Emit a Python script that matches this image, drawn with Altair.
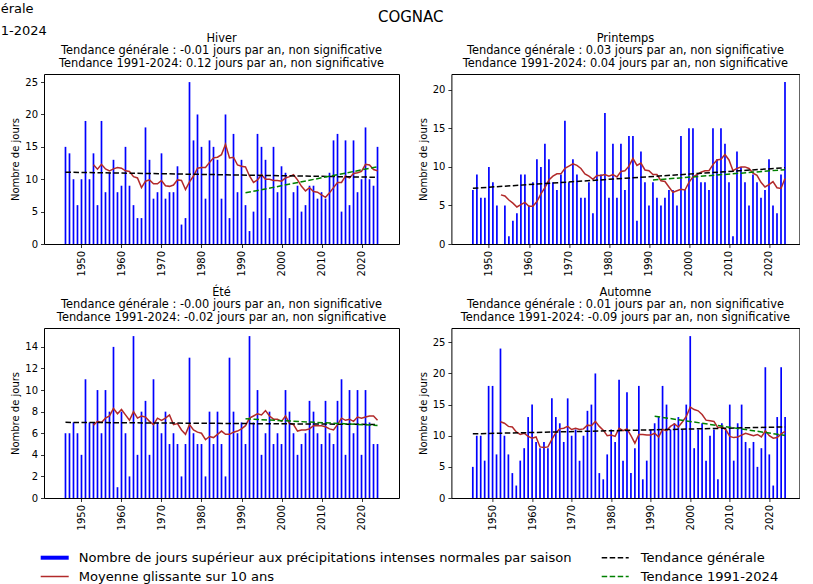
import altair as alt
import pandas as pd

# ---------------- data ----------------
annees_hiver = list(range(1946, 2025))
annees_printemps = list(range(1946, 2025))
annees_ete = list(range(1946, 2025))
annees_automne = list(range(1945, 2025))

hiver = [15, 14, 10, 6, 10, 19, 10, 14, 6, 19,
         8, 11, 13, 8, 9, 15, 9, 6, 4, 4,
         18, 13, 7, 8, 14, 7, 8, 8, 12, 3,
         4, 25, 16, 20, 15, 7, 16, 15, 13, 7,
         20, 4, 17, 8, 13, 6, 2, 5, 17, 15,
         13, 4, 15, 8, 12, 11, 4, 8, 9, 5,
         6, 9, 9, 7, 8, 7, 11, 16, 17, 5,
         16, 6, 16, 8, 10, 18, 10, 9, 15]

printemps = [7, 9, 6, 6, 10, 8, 5, 0, 5, 1,
             3, 4, 9, 9, 5, 8, 11, 10, 13, 11,
             8, 7, 9, 16, 8, 11, 9, 6, 6, 8,
             4, 12, 9, 17, 6, 13, 6, 13, 7, 14,
             14, 3, 12, 8, 5, 8, 6, 5, 6, 7,
             7, 5, 14, 7, 15, 15, 9, 8, 8, 7,
             15, 11, 15, 13, 8, 1, 12, 10, 8, 5,
             9, 8, 6, 7, 11, 5, 4, 9, 21]

ete = [6, 6, 7, 6, 4, 11, 7, 7, 10, 6,
       10, 8, 14, 1, 8, 6, 2, 15, 4, 8,
       9, 4, 11, 7, 6, 8, 5, 6, 5, 2,
       5, 13, 6, 5, 5, 2, 8, 5, 8, 5,
       2, 13, 8, 6, 7, 5, 15, 7, 10, 4,
       6, 8, 5, 6, 5, 10, 8, 6, 4, 5,
       6, 9, 8, 6, 5, 9, 6, 5, 9, 11,
       4, 10, 6, 10, 4, 10, 7, 5, 5]

automne = [5, 10, 10, 6, 18, 18, 7, 24, 10, 7,
           4, 2, 6, 8, 13, 15, 9, 8, 9, 8,
           16, 13, 12, 9, 16, 10, 11, 6, 10, 14,
           15, 20, 4, 3, 7, 11, 9, 19, 6, 17,
           4, 8, 18, 3, 6, 11, 12, 13, 18, 15,
           11, 12, 13, 11, 15,
           26, 8, 11, 12, 6, 10, 11, 3, 12, 11,
           15, 6, 12, 15, 9, 8, 9, 5, 8, 21,
           7, 2, 13, 21, 13]

titre = "COGNAC"
saisons = ["Hiver", "Printemps", "Été", "Automne"]
tendance_generale = ["-0.01", "0.03", "-0.00", "0.01"]
tendance_recente = ["0.12", "0.04", "-0.02", "-0.09"]
ticks_x = [1950, 1960, 1970, 1980, 1990, 2000, 2010, 2020]
legende = ["Nombre de jours supérieur aux précipitations intenses normales par saison",
           "Moyenne glissante sur 10 ans",
           "Tendance générale",
           "Tendance 1991-2024"]
fragments = ["érale", "1-2024"]

FONT = "DejaVu Sans"
BLEU = "#0000ff"
ROUGE = "#b22a2a"
VERT = "#008000"


def texte(t, x, y, size, align="left"):
    return alt.Chart(pd.DataFrame({"t": [t]})).mark_text(
        align=align, baseline="middle", fontSize=size, font=FONT, color="black"
    ).encode(text="t:N", x=alt.value(x), y=alt.value(y))


def trait(x1, x2, y, color, width, dash=None):
    kw = dict(color=color, strokeWidth=width)
    if dash:
        kw["strokeDash"] = dash
    return alt.Chart(pd.DataFrame({"a": [0]})).mark_rule(**kw).encode(
        x=alt.value(x1), x2=alt.value(x2), y=alt.value(y))


def panneau(i, annees, valeurs, ymax, ypas, xdom, largeur, extra):
    df = pd.DataFrame({"annee": annees, "jours": valeurs})
    xs = alt.Scale(domain=xdom, nice=False, zero=False)
    ys = alt.Scale(domain=[0, ymax], nice=False, zero=True)
    xax = alt.Axis(values=ticks_x, format="d", labelAngle=-90, title=None)
    yax = alt.Axis(values=list(range(0, int(ymax) + 1, ypas)), title="Nombre de jours")

    def enc(yfield):
        return dict(x=alt.X("annee:Q", scale=xs, axis=xax),
                    y=alt.Y(f"{yfield}:Q", scale=ys, axis=yax))

    base = alt.Chart(df)
    barres = base.mark_bar(color=BLEU, size=1.7, orient="vertical").encode(**enc("jours"))
    moyenne = base.transform_window(
        moy="mean(jours)", n="count()", frame=[-9, 0], sort=[{"field": "annee"}]
    ).transform_filter("datum.n >= 8").mark_line(color=ROUGE, strokeWidth=1.5).encode(**enc("moy"))
    tendance = base.transform_regression("annee", "jours").mark_line(
        color="black", strokeWidth=1.5, strokeDash=[5.5, 2.5]).encode(**enc("jours"))
    tendance2 = base.transform_filter("datum.annee >= 1991").transform_regression(
        "annee", "jours").mark_line(color=VERT, strokeWidth=1.5, strokeDash=[5.5, 2.5]).encode(**enc("jours"))

    cx = largeur / 2
    titres = [
        texte(saisons[i], cx, -35.3, 11.4, "center"),
        texte(f"Tendance générale : {tendance_generale[i]} jours par an, non significative",
              cx, -22.6, 11.4, "center"),
        texte(f"Tendance 1991-2024: {tendance_recente[i]} jours par an, non significative",
              cx, -10.2, 11.4, "center"),
    ]
    return alt.layer(barres, moyenne, tendance, tendance2, *titres, *extra).properties(
        width=largeur, height=170)


# header items placed relative to the first panel's plot origin
ancre = alt.Chart(pd.DataFrame({"a": [0]})).mark_rule(opacity=0, strokeWidth=0.1).encode(
    x=alt.value(-43.3), x2=alt.value(-42.3), y=alt.value(-73.3))
entete = [ancre,
          texte(titre, 366.7, -57.5, 15, "center"),
          texte(fragments[0], -43.3, -65.3, 13),
          texte(fragments[1], -43.3, -43.3, 13)]

# legend items placed relative to the third panel's plot origin
ly1, ly2 = 229.7, 248.5
legende_items = [
    trait(-3.3, 24.7, ly1, BLEU, 4),
    texte(legende[0], 34.7, ly1, 13.1),
    trait(-3.3, 24.7, ly2, ROUGE, 1.5),
    texte(legende[1], 34.7, ly2, 13.1),
    trait(557.7, 584.7, ly1, "black", 1.5, [5.5, 2.5]),
    texte(legende[2], 596.7, ly1, 13.1),
    trait(557.7, 584.7, ly2, VERT, 1.5, [5.5, 2.5]),
    texte(legende[3], 596.7, ly2, 13.1),
]

p1 = panneau(0, annees_hiver, hiver, 26.25, 5, [1941.88, 2028.12], 355, entete)
p2 = panneau(1, annees_printemps, printemps, 22.05, 5, [1941.88, 2026.35], 348, [])
p3 = panneau(2, annees_ete, ete, 15.75, 2, [1941.88, 2028.12], 355, legende_items)
p4 = panneau(3, annees_automne, automne, 27.3, 5, [1940.85, 2026.35], 348, [])

chart = alt.concat(p1, p2, p3, p4, columns=2, spacing={"row": 84, "column": 52.4},
                   bounds="flush").properties(padding=0).configure_view(
    stroke="black", strokeWidth=1
).configure_axis(
    domain=False, grid=False, tickColor="black", tickSize=3.5, tickWidth=0.8,
    labelColor="black", labelFont=FONT, labelFontSize=10, labelPadding=3,
    titleFont=FONT, titleFontSize=10, titleFontWeight="normal", titleColor="black",
    titlePadding=4
)

chart.save("out.html", embed_options={"renderer": "svg", "actions": False})
